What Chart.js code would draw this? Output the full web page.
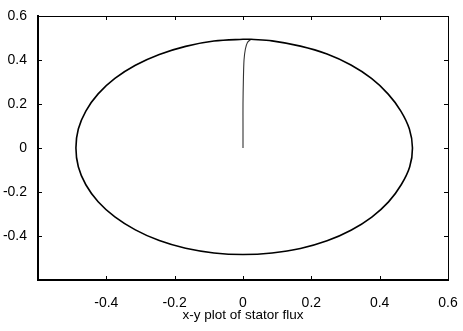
<!DOCTYPE html>
<html>
<head>
<meta charset="utf-8">
<script src="https://cdn.jsdelivr.net/npm/chart.js@4"></script>
<style>
  html, body { margin: 0; padding: 0; background: #fff; }
  #wrap { width: 463px; height: 331px; }
</style>
</head>
<body>
<div id="wrap"><canvas id="flux" width="463" height="331"></canvas></div>
<script>
// stator flux locus (psi_alpha, psi_beta)
const circleX = [0.023, 0.0, -0.085, -0.168, -0.245, -0.315, -0.375, -0.424, -0.460, -0.482, -0.489,
  -0.482, -0.460, -0.424, -0.375, -0.315, -0.245, -0.168, -0.085, 0.0,
  0.085, 0.168, 0.246, 0.316, 0.377, 0.426, 0.463, 0.488, 0.496,
  0.487, 0.462, 0.425, 0.376, 0.316, 0.246, 0.168, 0.085, 0.023];
const circleY = [0.494, 0.494, 0.486, 0.462, 0.425, 0.376, 0.316, 0.246, 0.168, 0.086, 0.0,
  -0.085, -0.167, -0.244, -0.313, -0.372, -0.421, -0.456, -0.477, -0.484,
  -0.477, -0.457, -0.422, -0.374, -0.314, -0.245, -0.167, -0.085, 0.0,
  0.086, 0.168, 0.245, 0.316, 0.377, 0.427, 0.463, 0.487, 0.494];

// start-up transient from the origin
const startX = [0.0, 0.0, 0.0, 0.001, 0.003, 0.007, 0.013, 0.023];
const startY = [0.0, 0.1, 0.2, 0.3, 0.4, 0.45, 0.48, 0.494];

const xTickValues = [-0.6, -0.4, -0.2, 0, 0.2, 0.4, 0.6];
const xTickLabels = ["", "-0.4", "-0.2", "0", "0.2", "0.4", "0.6"];
const yTickValues = [-0.6, -0.4, -0.2, 0, 0.2, 0.4, 0.6];
const yTickLabels = ["", "-0.4", "-0.2", "0", "0.2", "0.4", "0.6"];

const xTitle = "x-y plot of stator flux";

const toPoints = (xs, ys) => xs.map((x, i) => ({ x, y: ys[i] }));

const FONT = "'Liberation Sans', Arial, sans-serif";

// box on top/right + inward tick marks on all four sides (matlab style)
const boxTicks = {
  id: "boxTicks",
  afterDraw(chart) {
    const { ctx, chartArea: a, scales } = chart;
    const len = 4;
    ctx.save();
    ctx.strokeStyle = "#000";
    ctx.lineWidth = 1;
    ctx.beginPath();
    ctx.moveTo(a.left, a.top + 0.5);
    ctx.lineTo(a.right + 0.5, a.top + 0.5);
    ctx.lineTo(a.right + 0.5, a.bottom);
    for (const v of xTickValues) {
      const px = Math.round(scales.x.getPixelForValue(v)) + 0.5;
      ctx.moveTo(px, a.bottom);
      ctx.lineTo(px, a.bottom - len);
      ctx.moveTo(px, a.top);
      ctx.lineTo(px, a.top + len);
    }
    for (const v of yTickValues) {
      const py = Math.round(scales.y.getPixelForValue(v)) + 0.5;
      ctx.moveTo(a.left, py);
      ctx.lineTo(a.left + len, py);
      ctx.moveTo(a.right, py);
      ctx.lineTo(a.right - len, py);
    }
    ctx.stroke();
    ctx.restore();
  },
};

new Chart(document.getElementById("flux"), {
  type: "scatter",
  data: {
    datasets: [
      {
        data: toPoints(circleX, circleY),
        showLine: true,
        borderColor: "#000",
        borderWidth: 1.6,
        pointRadius: 0,
        tension: 0.35,
      },
      {
        data: toPoints(startX, startY),
        showLine: true,
        borderColor: "#333",
        borderWidth: 1.1,
        pointRadius: 0,
        tension: 0.3,
      },
    ],
  },
  options: {
    responsive: false,
    animation: false,
    layout: { padding: { left: 0, right: 0, top: 16, bottom: 0 } },
    plugins: { legend: { display: false }, tooltip: { enabled: false } },
    scales: {
      x: {
        type: "linear",
        min: -0.6,
        max: 0.6,
        afterBuildTicks: (s) => { s.ticks = xTickValues.map((v) => ({ value: v })); },
        afterFit: (s) => { s.height = 51; s.paddingRight = 15; s.paddingLeft = 0; },
        grid: { display: false },
        border: { display: true, color: "#000", width: 2 },
        ticks: {
          color: "#000",
          padding: 7,
          maxRotation: 0,
          autoSkip: false,
          font: { family: FONT, size: 14 },
          callback: (v, i) => xTickLabels[i],
        },
        title: {
          display: true,
          text: xTitle,
          color: "#000",
          font: { family: FONT, size: 13.5 },
          padding: { top: 0, bottom: 8 },
        },
      },
      y: {
        type: "linear",
        min: -0.6,
        max: 0.6,
        afterBuildTicks: (s) => { s.ticks = yTickValues.map((v) => ({ value: v })); },
        afterFit: (s) => { s.width = 38; },
        grid: { display: false },
        border: { display: true, color: "#000", width: 2 },
        ticks: {
          color: "#000",
          padding: 3,
          autoSkip: false,
          font: { family: FONT, size: 14 },
          callback: (v, i) => yTickLabels[i],
        },
      },
    },
  },
  plugins: [boxTicks],
});
</script>
</body>
</html>
